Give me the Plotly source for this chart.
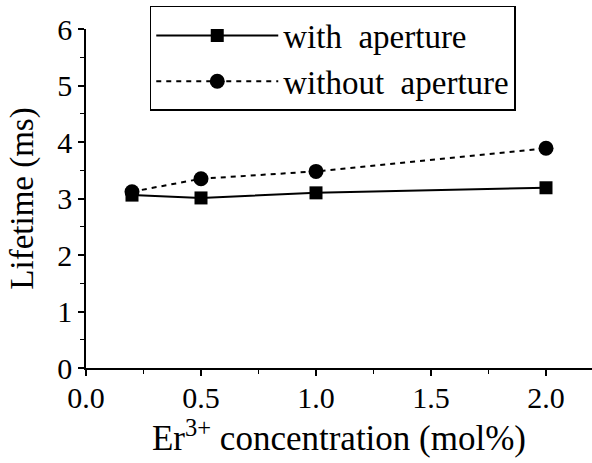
import plotly.graph_objects as go

conc = [0.2, 0.5, 1.0, 2.0]
with_aperture = [3.06, 3.01, 3.10, 3.19]
without_aperture = [3.12, 3.35, 3.48, 3.89]
x_ticks = [0.0, 0.5, 1.0, 1.5, 2.0]
x_tick_labels = ["0.0", "0.5", "1.0", "1.5", "2.0"]
y_ticks = [0, 1, 2, 3, 4, 5, 6]

font = "Liberation Serif, Times New Roman, serif"

fig = go.Figure()
fig.add_trace(go.Scatter(
    x=conc, y=with_aperture, mode="lines+markers", name="with  aperture",
    line=dict(color="black", width=2),
    marker=dict(symbol="square", size=13, color="black"),
))
fig.add_trace(go.Scatter(
    x=conc, y=without_aperture, mode="lines+markers", name="without  aperture",
    line=dict(color="black", width=2, dash="5px,5px"),
    marker=dict(symbol="circle", size=15, color="black"),
))

fig.update_layout(
    width=592, height=463,
    margin=dict(l=86, r=0, t=29, b=95, autoexpand=False),
    paper_bgcolor="white", plot_bgcolor="white",
    font=dict(family=font, size=30, color="black"),
    showlegend=True,
    legend=dict(
        x=0.126, y=1.068, xanchor="left", yanchor="top",
        bgcolor="white", bordercolor="black", borderwidth=1.5,
        font=dict(family=font, size=33, color="black"),
        itemwidth=122, tracegroupgap=0,
    ),
    xaxis=dict(
        range=[0, 2.2], tickmode="array", tickvals=x_ticks, ticktext=x_tick_labels,
        ticks="outside", ticklen=6, tickwidth=1.5, tickcolor="black",
        ticklabelstandoff=-4,
        showline=True, linecolor="black", linewidth=1.5,
        showgrid=False, zeroline=False,
        minor=dict(dtick=0.25, ticks="outside", ticklen=4, tickwidth=1.2, tickcolor="black"),
        title=dict(text="Er<sup>3+</sup> concentration (mol%)", font=dict(family=font, size=35), standoff=12),
        tickfont=dict(family=font, size=30),
    ),
    yaxis=dict(
        range=[0, 6], tickmode="array", tickvals=y_ticks,
        ticks="outside", ticklen=6, tickwidth=1.5, tickcolor="black",
        showline=True, linecolor="black", linewidth=1.5,
        showgrid=False, zeroline=False,
        minor=dict(dtick=0.5, ticks="outside", ticklen=4, tickwidth=1.2, tickcolor="black"),
        title=dict(text="Lifetime (ms)", font=dict(family=font, size=33), standoff=14),
        tickfont=dict(family=font, size=30),
    ),
)

fig.write_html(
    "out.html",
    config={"displayModeBar": False},
    post_script="document.body.style.margin='0px';document.body.style.overflow='hidden';",
)
